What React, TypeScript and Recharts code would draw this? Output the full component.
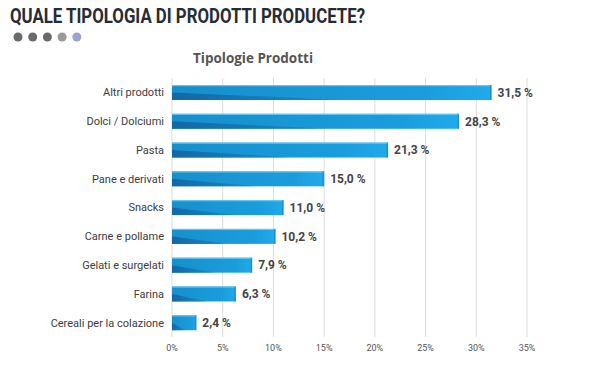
import React from "react";
import { Bar, BarChart, CartesianGrid, LabelList, XAxis, YAxis } from "recharts";

const categories = [
  "Altri prodotti",
  "Dolci / Dolciumi",
  "Pasta",
  "Pane e derivati",
  "Snacks",
  "Carne e pollame",
  "Gelati e surgelati",
  "Farina",
  "Cereali per la colazione",
];
const values = [31.5, 28.3, 21.3, 15.0, 11.0, 10.2, 7.9, 6.3, 2.4];
const xTicks = [0, 5, 10, 15, 20, 25, 30, 35];
const dotColors = ["#6a6a6a", "#6a6a6a", "#6a6a6a", "#9a9a9a", "#9da1cf"];

const rows = categories.map((name, i) => ({ name, value: values[i] }));

const fmt = (v: number) => v.toFixed(1).replace(".", ",") + " %";

function GlossyBar(props: any) {
  const { x, y, width, height } = props;
  if (width <= 0) return null;
  const wedge = Math.min(width * 0.55, 170);
  return (
    <g>
      <rect x={x} y={y} width={width} height={height} fill="url(#barFill)" />
      <polygon
        points={`${x},${y + height * 0.5} ${x + wedge},${y + height} ${x},${y + height}`}
        fill="url(#wedgeFill)"
      />
      <rect x={x} y={y} width={width} height={1.2} fill="#6fd2f4" opacity={0.8} />
      <rect x={x + width - 1.5} y={y} width={1.5} height={height} fill="#1680bd" opacity={0.6} />
    </g>
  );
}

export default function App() {
  return (
    <div style={{ position: "absolute", left: 0, top: 0, width: 612, height: 381, background: "#fff" }}>
      <svg width={612} height={381} style={{ position: "absolute", left: 0, top: 0 }}>
        <text
          x={10}
          y={23}
          fontFamily="Roboto, sans-serif"
          fontWeight={700}
          fontSize={21}
          fill="#262b36"
          textLength={355}
          lengthAdjust="spacingAndGlyphs"
        >
          QUALE TIPOLOGIA DI PRODOTTI PRODUCETE?
        </text>
        {dotColors.map((c, i) => (
          <circle key={i} cx={18 + i * 14.7} cy={37} r={4.5} fill={c} />
        ))}
        <text
          x={253}
          y={63}
          textAnchor="middle"
          fontFamily="'Open Sans', sans-serif"
          fontWeight={700}
          fontSize={15}
          fill="#555"
          textLength={120}
          lengthAdjust="spacingAndGlyphs"
        >
          Tipologie Prodotti
        </text>
      </svg>
      <div style={{ position: "absolute", left: 0, top: 0 }}>
        <BarChart
          width={612}
          height={381}
          data={rows}
          layout="vertical"
          margin={{ top: 78, right: 85, bottom: 14, left: 0 }}
          barSize={15}
        >
          <defs>
            <linearGradient id="barFill" x1="0" y1="0" x2="1" y2="0">
              <stop offset="0%" stopColor="#178fcd" />
              <stop offset="80%" stopColor="#1a9ddd" />
              <stop offset="100%" stopColor="#20aaec" />
            </linearGradient>
            <linearGradient id="wedgeFill" x1="0" y1="0" x2="1" y2="0">
              <stop offset="0%" stopColor="#13639f" stopOpacity={0.9} />
              <stop offset="100%" stopColor="#1674b2" stopOpacity={0.4} />
            </linearGradient>
          </defs>
          <CartesianGrid horizontal={false} stroke="#dcdcdc" />
          <XAxis
            type="number"
            domain={[0, 35]}
            ticks={xTicks}
            tickFormatter={(v) => `${v}%`}
            axisLine={false}
            tickLine={false}
            tick={{ fill: "#555", fontSize: 9, fontFamily: "Roboto, sans-serif" }}
            height={30}
          />
          <YAxis
            type="category"
            dataKey="name"
            width={172}
            axisLine={false}
            tickLine={false}
            interval={0}
            tick={{ fill: "#3c3c3c", fontSize: 11, fontFamily: "Roboto, sans-serif" }}
          />
          <Bar dataKey="value" shape={<GlossyBar />} isAnimationActive={false}>
            <LabelList
              dataKey="value"
              position="right"
              offset={6}
              formatter={(v: any) => fmt(Number(v))}
              style={{ fill: "#444", fontSize: 12, fontWeight: 700, fontFamily: "Roboto, sans-serif" }}
            />
          </Bar>
        </BarChart>
      </div>
    </div>
  );
}
